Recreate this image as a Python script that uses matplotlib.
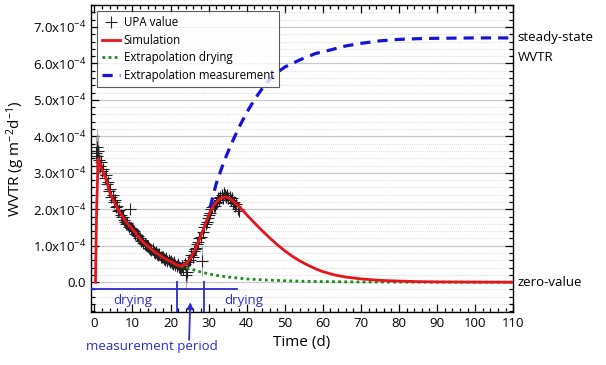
import matplotlib
matplotlib.use("Agg")
import matplotlib.pyplot as plt
from matplotlib.ticker import MultipleLocator, FuncFormatter

plt.rcParams['font.family'] = ['Open Sans', 'DejaVu Sans']
plt.rcParams['mathtext.fontset'] = 'custom'
plt.rcParams['mathtext.rm'] = 'Open Sans'
plt.rcParams['mathtext.it'] = 'Open Sans'

# ── Data (values in units of 1e-4 g m^-2 d^-1) ────────────────────────────────
upa_t = [0.4, 0.6, 0.8, 1.0, 1.2, 1.5, 1.8, 2.1, 2.4, 2.7, 3.0, 3.3, 3.6, 3.9,
         4.2, 4.5, 4.8, 5.1, 5.4, 5.7, 6.0, 6.3, 6.6, 6.9, 7.2, 7.5, 7.8, 8.1,
         8.4, 8.7, 9.0, 9.3, 9.6, 9.9, 10.2, 10.5, 10.8, 11.1, 11.4, 11.7, 12.0,
         12.3, 12.6, 12.9, 13.2, 13.5, 13.8, 14.1, 14.4, 14.7, 15.0, 15.3, 15.6,
         15.9, 16.2, 16.5, 16.8, 17.1, 17.4, 17.7, 18.0, 18.3, 18.6, 18.9, 19.2,
         19.5, 19.8, 20.1, 20.4, 20.7, 21.0, 21.3, 21.6, 21.9, 22.2, 22.5, 22.8,
         23.1, 23.4, 23.7, 24.0, 24.3, 24.6, 24.9, 25.2, 25.5, 25.8, 26.1, 26.4,
         26.7, 27.0, 27.3, 27.6, 27.9, 28.3, 28.6, 28.9, 29.2, 29.5, 29.8, 30.1,
         30.4, 30.7, 31.0, 31.3, 31.6, 31.9, 32.2, 32.5, 32.8, 33.1, 33.4, 33.7,
         34.0, 34.3, 34.6, 34.9, 35.2, 35.5, 35.8, 36.1, 36.4, 36.7, 37.0, 37.3,
         37.6, 37.9]
upa_v = [3.55, 3.70, 3.45, 3.60, 3.35, 3.20, 3.30, 3.05, 3.10, 2.85, 2.95, 2.70,
         2.75, 2.50, 2.55, 2.35, 2.40, 2.20, 2.25, 2.05, 2.10, 1.95, 1.98, 1.85,
         1.80, 1.78, 1.70, 1.66, 1.60, 1.62, 1.52, 2.00, 1.48, 1.45, 1.42, 1.40,
         1.33, 1.30, 1.28, 1.20, 1.22, 1.12, 1.15, 1.08, 1.05, 1.02, 0.98, 1.00,
         0.93, 0.90, 0.88, 0.90, 0.83, 0.80, 0.82, 0.76, 0.74, 0.78, 0.70, 0.68,
         0.70, 0.64, 0.62, 0.65, 0.58, 0.60, 0.55, 0.57, 0.52, 0.50, 0.55, 0.48,
         0.45, 0.50, 0.42, 0.40, 0.38, 0.45, 0.35, 0.50, 0.20, 0.28, 0.55, 0.60,
         0.62, 0.75, 0.70, 0.85, 0.90, 0.95, 1.05, 1.10, 1.20, 1.25, 0.58, 1.38,
         1.50, 1.60, 1.65, 1.75, 1.85, 1.90, 2.00, 2.05, 2.10, 2.10, 2.18, 2.20,
         2.30, 2.25, 2.35, 2.40, 2.30, 2.45, 2.38, 2.35, 2.40, 2.30, 2.35, 2.25,
         2.30, 2.18, 2.20, 2.10, 2.15, 2.00, 1.95]
upa_err = [0.45, 0.50, 0.40, 0.45, 0.35, 0.30, 0.25, 0.20, 0.20, 0.18, 0.18, 0.15,
           0.15, 0.15, 0.15, 0.12, 0.12, 0.12, 0.12, 0.12, 0.12, 0.12, 0.12, 0.12,
           0.12, 0.12, 0.12, 0.12, 0.12, 0.12, 0.12, 0.10, 0.12, 0.12, 0.12, 0.12,
           0.12, 0.12, 0.12, 0.12, 0.12, 0.12, 0.12, 0.12, 0.12, 0.12, 0.12, 0.12,
           0.12, 0.12, 0.12, 0.12, 0.12, 0.12, 0.12, 0.12, 0.12, 0.12, 0.12, 0.12,
           0.12, 0.12, 0.12, 0.12, 0.12, 0.12, 0.12, 0.12, 0.12, 0.12, 0.12, 0.12,
           0.12, 0.12, 0.12, 0.12, 0.15, 0.15, 0.15, 0.20, 0.35, 0.30, 0.15, 0.15,
           0.15, 0.15, 0.15, 0.15, 0.15, 0.15, 0.15, 0.15, 0.15, 0.15, 0.40, 0.15,
           0.15, 0.15, 0.15, 0.15, 0.15, 0.15, 0.15, 0.15, 0.15, 0.15, 0.15, 0.15,
           0.15, 0.15, 0.15, 0.15, 0.15, 0.15, 0.15, 0.15, 0.15, 0.15, 0.15, 0.15,
           0.15, 0.15, 0.15, 0.15, 0.15, 0.15, 0.15]

sim_t = [0.3, 0.6, 1.0, 2.0, 3.0, 4.0, 5.0, 6.0, 7.0, 8.0, 9.0, 10.0, 11.0, 12.0,
         13.0, 14.0, 15.0, 16.0, 17.0, 18.0, 19.0, 20.0, 21.0, 22.0, 22.7, 23.5,
         24.5, 25.5, 26.5, 27.5, 28.5, 29.5, 30.5, 31.5, 32.5, 33.5, 34.5, 35.5,
         36.5, 37.5, 38.5, 40.0, 42.0, 44.0, 46.0, 48.0, 50.0, 52.0, 54.0, 56.0,
         58.0, 60.0, 63.0, 66.0, 70.0, 75.0, 80.0, 85.0, 90.0, 100.0, 110.0]
sim_v = [0.0, 2.0, 3.38, 3.10, 2.85, 2.48, 2.24, 2.04, 1.86, 1.70, 1.57, 1.46,
         1.32, 1.19, 1.08, 0.99, 0.90, 0.82, 0.75, 0.68, 0.62, 0.57, 0.51, 0.46,
         0.44, 0.46, 0.55, 0.70, 0.90, 1.15, 1.42, 1.70, 1.95, 2.13, 2.25, 2.32,
         2.34, 2.30, 2.22, 2.12, 2.02, 1.85, 1.63, 1.42, 1.22, 1.03, 0.86, 0.71,
         0.58, 0.47, 0.37, 0.29, 0.20, 0.14, 0.09, 0.05, 0.03, 0.015, 0.008,
         0.002, 0.0]

dry_t = [22.7, 24.0, 26.0, 28.0, 30.0, 33.0, 36.0, 40.0, 45.0, 50.0, 55.0, 60.0,
         70.0, 80.0, 90.0, 110.0]
dry_v = [0.44, 0.40, 0.34, 0.28, 0.23, 0.17, 0.13, 0.09, 0.06, 0.04, 0.025,
         0.015, 0.006, 0.002, 0.0, 0.0]

meas_t = [30.4, 32.0, 34.0, 36.0, 38.0, 40.0, 42.0, 44.0, 46.0, 48.0, 50.0, 54.0,
          58.0, 62.0, 66.0, 70.0, 75.0, 80.0, 85.0, 90.0, 100.0, 110.0]
meas_v = [2.05, 2.70, 3.30, 3.80, 4.25, 4.65, 5.00, 5.30, 5.55, 5.75, 5.90, 6.10,
          6.27, 6.37, 6.48, 6.55, 6.62, 6.66, 6.68, 6.69, 6.70, 6.70]

# drying / measurement periods (days)
drying_end = 21.8
drying_restart = 28.9
drying_label_x = [10.0, 39.2]

S = 1e-4
BLUE = "#2b2bd0"

fig = plt.figure(figsize=(6.06, 3.65), dpi=100)
ax = fig.add_axes([0.150, 0.145, 0.697, 0.841])

ax.errorbar(upa_t, [v * S for v in upa_v], yerr=[e * S for e in upa_err],
            fmt="none", ecolor="#9a9a9a", elinewidth=0.8, alpha=0.8, zorder=2)
ax.plot(upa_t, [v * S for v in upa_v], "+", color="#222222", ms=8, mew=0.8,
        zorder=3, label="UPA value")
ax.plot(sim_t, [v * S for v in sim_v], color="#e8141c", lw=2.0, zorder=4,
        label="Simulation")
ax.plot(dry_t, [v * S for v in dry_v], color="#1a8a1a", lw=2.0, ls=(0, (1, 1.2)),
        zorder=3, label="Extrapolation drying")
ax.plot(meas_t, [v * S for v in meas_v], color="#1515d8", lw=2.3, ls=(0, (3.2, 2.2)),
        zorder=3, label="Extrapolation measurement")

ax.set_xlim(-0.9, 110)
ax.set_ylim(-0.82e-4, 7.6e-4)

ax.xaxis.set_major_locator(MultipleLocator(10))
ax.xaxis.set_minor_locator(MultipleLocator(2))
ax.set_yticks([i * S for i in range(8)])
ax.yaxis.set_minor_locator(MultipleLocator(0.2e-4))


def yfmt(v, pos):
    k = round(v / S, 1)
    if abs(k) < 1e-9:
        return "0.0"
    return r"%.1fx10$^{-4}$" % k


ax.yaxis.set_major_formatter(FuncFormatter(yfmt))
ax.tick_params(which="both", direction="in", top=True, right=True,
               labelsize=9.5, width=0.9)
ax.tick_params(which="major", length=6)
ax.tick_params(which="minor", length=3)
ax.grid(which="major", axis="y", color="#c8c8c8", lw=0.9)
ax.grid(which="minor", axis="y", color="#d0d0d0", lw=0.6, ls=(0, (1, 1.5)))
ax.set_axisbelow(True)
for sp in ax.spines.values():
    sp.set_linewidth(1.0)

ax.set_xlabel("Time (d)", fontsize=11, labelpad=4)
ax.set_ylabel(r"WVTR (g m$^{-2}$d$^{-1}$)", fontsize=11, labelpad=4)

leg = ax.legend(loc="upper left", fontsize=8.3, frameon=True, fancybox=False,
                borderaxespad=0.5, handlelength=1.6, handletextpad=0.3,
                labelspacing=0.4, borderpad=0.45)
leg.get_frame().set_edgecolor("#333333")
leg.get_frame().set_linewidth(0.8)

# period markers below zero
y_bar = -0.19e-4
ax.plot([-0.9, 37.5], [y_bar, y_bar], color=BLUE, lw=1.3, zorder=5)
for xv in (drying_end, drying_restart):
    ax.plot([xv, xv], [0.0, -0.82e-4], color=BLUE, lw=1.3, zorder=5)
for xv in drying_label_x:
    ax.text(xv, -0.5e-4, "drying", color=BLUE, fontsize=9.5, ha="center",
            va="center")
ax.annotate("measurement period", xy=(25.2, -0.55e-4), xytext=(15.2, -1.76e-4),
            color=BLUE, fontsize=9.5, ha="center", va="center",
            annotation_clip=False,
            arrowprops=dict(arrowstyle="-|>", color=BLUE, lw=1.3,
                            shrinkA=0, shrinkB=0, mutation_scale=9,
                            patchA=None, relpos=(0.78, 1.0)))

# labels at the right edge
ax.text(111.2, 6.72e-4, "steady-state", fontsize=9.5, ha="left", va="center",
        clip_on=False)
ax.text(111.2, 6.15e-4, "WVTR", fontsize=9.5, ha="left", va="center",
        clip_on=False)
ax.text(111.2, 0.0, "zero-value", fontsize=9.5, ha="left", va="center",
        clip_on=False)

fig.savefig("out.png", dpi=100)
